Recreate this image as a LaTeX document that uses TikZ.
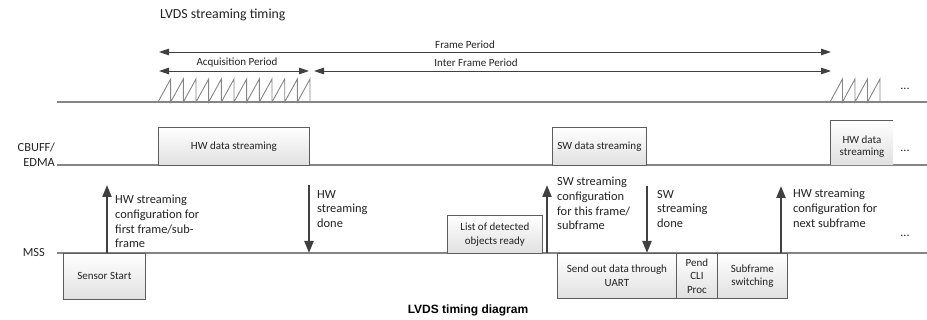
\documentclass[tikz,border=0pt]{standalone}
\usepackage{fontspec}
\setmainfont{Carlito}
\newfontfamily\capfont{Liberation Sans}
\usetikzlibrary{arrows.meta}

\definecolor{linegray}{HTML}{858585}
\definecolor{boxline}{HTML}{5C5C5C}
\definecolor{arrowgray}{HTML}{404040}
\definecolor{txt}{HTML}{222222}

\begin{document}
\begin{tikzpicture}[x=1pt,y=-1pt,
  every node/.style={text=txt, inner sep=0pt},
  axis/.style={draw=linegray, line width=1.3pt},
  saw/.style={draw=linegray, line width=0.9pt},
  period/.style={draw=arrowgray, line width=0.9pt,
    {Triangle[width=6.5pt,length=10pt]}-{Triangle[width=6.5pt,length=10pt]}},
  periodlbl/.style={font=\fontsize{11}{13}\selectfont},
  evt/.style={draw=arrowgray, line width=2.2pt, -{Triangle[width=9pt,length=12pt]}},
  blk/.style={draw=boxline, line width=0.8pt, top color=white, bottom color=black!12,
    font=\fontsize{11}{13.5}\selectfont, align=center, anchor=north west},
  note/.style={font=\fontsize{12.4}{14.7}\selectfont, align=left, anchor=north west},
  rowlbl/.style={font=\fontsize{12.4}{15}\selectfont, align=right, anchor=east},
  more/.style={font=\fontsize{12}{14}\selectfont}
]
\useasboundingbox (0,0) rectangle (927,320);

% title
\node[anchor=west, font=\fontsize{13.8}{16}\selectfont] (title) at (160,15) {LVDS streaming timing};

% ---------- LVDS row ----------
\coordinate (lvdsL) at (57,102);
\coordinate (lvdsR) at (927,102);
\draw[axis] (lvdsL) -- (lvdsR);
% chirp ramps of the acquisition period
\draw[saw] (158,102) \foreach \i in {1,...,12} { -- ++(12.67,-23) -- ++(0,23) };
% chirp ramps of the next frame
\draw[saw] (830,102) \foreach \i in {1,...,4} { -- ++(12.5,-23) -- ++(0,23) };
\node[more] (dotsA) at (905,89) {...};

% period markers
\coordinate (frameS) at (159,52);
\coordinate (frameE) at (831,52);
\coordinate (acqS) at (159,71);
\coordinate (acqE) at (309,71);
\coordinate (ifpS) at (314,71);
\coordinate (ifpE) at (831,71);
\draw[period] (frameS) -- (frameE);
\draw[period] (acqS) -- (acqE);
\draw[period] (ifpS) -- (ifpE);
\node[periodlbl] (frameLbl) at (465,45) {Frame Period};
\node[periodlbl] (acqLbl) at (237,63) {Acquisition Period};
\node[periodlbl] (ifpLbl) at (476,63) {Inter Frame Period};

% ---------- CBUFF/EDMA row ----------
\node[rowlbl] (cbuff) at (55,155) {CBUFF/\\EDMA};
\coordinate (cbL) at (57,165);
\coordinate (cbR) at (927,165);
\draw[axis] (cbL) -- (cbR);
\node[blk, minimum width=151pt, minimum height=38pt] (hwStream) at (158,127) {HW data streaming};
\node[blk, minimum width=94pt, minimum height=38pt] (swStream) at (552,127) {SW data streaming};
% next frame's block, open on the right
\shade[top color=white, bottom color=black!12] (830,120) rectangle (893,165);
\draw[draw=boxline, line width=0.8pt] (830,165) -- (830,120) -- (893,120);
\node[font=\fontsize{11}{12}\selectfont, align=center] (hwStream2) at (862,147) {HW data\\streaming};
\node[more] (dotsB) at (905,151) {...};

% ---------- MSS row ----------
\node[rowlbl] (mss) at (45,253) {MSS};
\coordinate (mssL) at (57,253);
\coordinate (mssR) at (927,253);
\draw[axis] (mssL) -- (mssR);
\node[blk, minimum width=82pt, minimum height=46pt] (sensor) at (63,253) {Sensor Start};
\node[blk, minimum width=95pt, minimum height=38pt] (objs) at (447,215) {List of detected\\objects ready};
\node[blk, minimum width=119pt, minimum height=45pt] (uart) at (557,253) {Send out data through\\UART};
\node[blk, minimum width=41pt, minimum height=45pt] (cli) at (676,253) {Pend\\CLI\\Proc};
\node[blk, minimum width=70pt, minimum height=45pt] (subsw) at (717,253) {Subframe\\switching};
\node[more] (dotsC) at (905,236) {...};

% events between MSS and the streaming hardware
\coordinate (e1a) at (107,253); \coordinate (e1b) at (107,185);
\coordinate (e2a) at (309,185); \coordinate (e2b) at (309,253);
\coordinate (e3a) at (547,253); \coordinate (e3b) at (547,185);
\coordinate (e4a) at (647,186); \coordinate (e4b) at (647,253);
\coordinate (e5a) at (781,253); \coordinate (e5b) at (781,186);
\draw[evt] (e1a) -- (e1b);
\draw[evt] (e2a) -- (e2b);
\draw[evt] (e3a) -- (e3b);
\draw[evt] (e4a) -- (e4b);
\draw[evt] (e5a) -- (e5b);

\node[note] (n1) at (115,195) {HW streaming\\configuration for\\first frame/sub-\\frame};
\node[note] (n2) at (317,190) {HW\\streaming\\done};
\node[note] (n3) at (557,177) {SW streaming\\configuration\\for this frame/\\subframe};
\node[note] (n4) at (657,190) {SW\\streaming\\done};
\node[note] (n5) at (793,189) {HW streaming\\configuration for\\next subframe};

% caption
\node[font=\capfont\bfseries\fontsize{12}{14}\selectfont, text=black] (caption) at (468,310) {LVDS timing diagram};
\end{tikzpicture}
\end{document}
